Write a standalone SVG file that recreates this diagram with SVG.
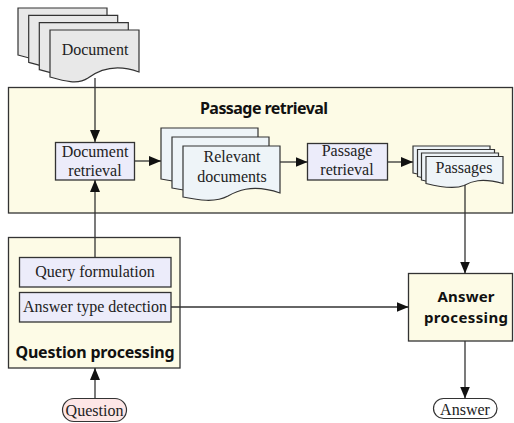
<svg xmlns="http://www.w3.org/2000/svg" width="514" height="423" viewBox="0 0 514 423">
<defs>
<style>
.frame{fill:#fdfbe6;stroke:#333;stroke-width:1.3}
.proc{fill:#ececfa;stroke:#333;stroke-width:1.3}
.docg{fill:#e8e8e8;stroke:#333;stroke-width:1.2}
.docb{fill:#eef4f8;stroke:#333;stroke-width:1.2}
.pill{stroke:#333;stroke-width:1.2}
.t{font-family:"Liberation Serif","Times New Roman",serif;font-size:16px;fill:#222;text-anchor:middle}
.b{font-family:"Noto Sans","Open Sans",sans-serif;font-weight:bold;font-size:16px;fill:#111;text-anchor:middle}
.bs{font-size:15px}
.c{fill:none;stroke:#333;stroke-width:1.3}
</style>
<marker id="ah" viewBox="0 0 12 10" refX="12" refY="5" markerWidth="12" markerHeight="10" markerUnits="userSpaceOnUse" orient="auto">
<path d="M0,0 L12,5 L0,10 z" fill="#111"/>
</marker>
<path id="d1" d="M0,0 H89 V42 C62,32 46,42 38,48 C28,55 14,51 0,47 Z"/>
<path id="d2" d="M0,0 H97 V47 C68,37 52,46 45,50 C32,57 15,54 0,51 Z"/>
<path id="d3" d="M0,0 H77 V27 C55,21 45,25 38,29 C28,33 12,30 0,27 Z"/>
</defs>

<g id="passage-retrieval-frame">
<rect class="frame" x="8.5" y="87.5" width="504" height="125.5"/>
<text class="b" x="264" y="114" textLength="128">Passage retrieval</text>
</g>

<g id="question-processing">
<rect class="frame" x="8.5" y="237.5" width="171.5" height="130.5"/>
<text class="b" x="95" y="358" textLength="159">Question processing</text>
</g>

<g id="query-formulation">
<rect class="proc" x="19.5" y="257.5" width="151.5" height="29.5"/>
<text class="t" x="95" y="277">Query formulation</text>
</g>

<g id="answer-type-detection">
<rect class="proc" x="19.5" y="292.5" width="151.5" height="29.5"/>
<text class="t" x="95" y="312">Answer type detection</text>
</g>

<g id="document">
<use href="#d1" class="docg" x="18" y="8"/>
<use href="#d1" class="docg" x="28.7" y="15.3"/>
<use href="#d1" class="docg" x="39.3" y="22.7"/>
<use href="#d1" class="docg" x="50" y="30"/>
<text class="t" x="95" y="55">Document</text>
</g>

<g id="document-retrieval">
<rect class="proc" x="55.5" y="142.5" width="79" height="37.5"/>
<text class="t" x="95" y="157">Document</text>
<text class="t" x="95" y="176">retrieval</text>
</g>

<g id="relevant-documents">
<use href="#d2" class="docb" x="161" y="128"/>
<use href="#d2" class="docb" x="172" y="137"/>
<use href="#d2" class="docb" x="183" y="146"/>
<text class="t" x="232" y="162">Relevant</text>
<text class="t" x="232" y="182">documents</text>
</g>

<g id="passage-retrieval">
<rect class="proc" x="307.5" y="143.5" width="80" height="36.5"/>
<text class="t" x="347" y="156">Passage</text>
<text class="t" x="347" y="175">retrieval</text>
</g>

<g id="passages">
<use href="#d3" class="docb" x="413" y="146"/>
<use href="#d3" class="docb" x="417.5" y="149.5"/>
<use href="#d3" class="docb" x="421.5" y="153"/>
<use href="#d3" class="docb" x="426" y="156.5"/>
<text class="t" x="464" y="173">Passages</text>
</g>

<g id="answer-processing">
<rect class="frame" x="408.5" y="273.5" width="104" height="67.5"/>
<text class="b bs" x="466" y="301.5" textLength="57">Answer</text>
<text class="b bs" x="466" y="322.5" textLength="84">processing</text>
</g>

<g id="question">
<rect class="pill" fill="#fde6e6" x="62.5" y="398.5" width="64" height="23" rx="11.5"/>
<text class="t" x="94.5" y="416">Question</text>
</g>

<g id="answer">
<rect class="pill" fill="#ffffff" x="433.5" y="398.5" width="63.5" height="20" rx="10"/>
<text class="t" x="465" y="414.5">Answer</text>
</g>

<g id="connectors">
<path class="c" d="M95,78 V142" marker-end="url(#ah)"/>
<path class="c" d="M134.5,161 H161" marker-end="url(#ah)"/>
<path class="c" d="M280,162 H307.5" marker-end="url(#ah)"/>
<path class="c" d="M387.5,162 H413" marker-end="url(#ah)"/>
<path class="c" d="M465,185 V273.5" marker-end="url(#ah)"/>
<path class="c" d="M95,257.5 V180" marker-end="url(#ah)"/>
<path class="c" d="M171,307 H408.5" marker-end="url(#ah)"/>
<path class="c" d="M95,398.5 V368" marker-end="url(#ah)"/>
<path class="c" d="M465,341 V398.5" marker-end="url(#ah)"/>
</g>
</svg>
